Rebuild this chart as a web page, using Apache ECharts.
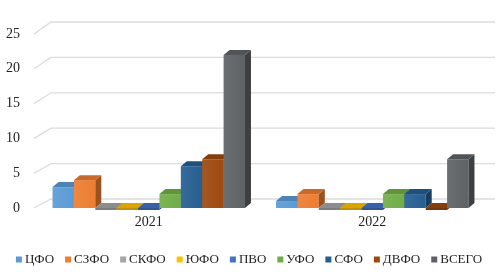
<!DOCTYPE html>
<html>
<head>
<meta charset="utf-8">
<script src="https://cdn.jsdelivr.net/npm/echarts@6/dist/echarts.min.js"></script>
<style>html,body{margin:0;padding:0;background:#fff}#c{width:498px;height:274px}</style>
</head>
<body>
<div id="c"></div>
<script>
var categories = ['2021', '2022'];
var seriesNames = ['ЦФО', 'СЗФО', 'СКФО', 'ЮФО', 'ПВО', 'УФО', 'СФО', 'ДВФО', 'ВСЕГО'];
var valuesCFO   = [3, 1];
var valuesSZFO  = [4, 2];
var valuesSKFO  = [0, 0];
var valuesUFO_S = [0, 0];
var valuesPVO   = [0, 0];
var valuesURFO  = [2, 2];
var valuesSFO   = [6, 2];
var valuesDVFO  = [7, 0];
var valuesTotal = [22, 7];
var yTicks = [0, 5, 10, 15, 20, 25];

var seriesValues = [valuesCFO, valuesSZFO, valuesSKFO, valuesUFO_S, valuesPVO, valuesURFO, valuesSFO, valuesDVFO, valuesTotal];
var colors = ['#5B9BD5', '#ED7D31', '#A5A5A5', '#FFC000', '#4472C4', '#70AD47', '#255E91', '#9E480E', '#5E6266'];

function shade(hex, f) {
  var n = parseInt(hex.slice(1), 16);
  var r = (n >> 16) & 255, g = (n >> 8) & 255, b = n & 255;
  function c(v) { v = f < 0 ? v * (1 + f) : v + (255 - v) * f; return Math.max(0, Math.min(255, Math.round(v))); }
  return 'rgb(' + c(r) + ',' + c(g) + ',' + c(b) + ')';
}

var nS = seriesNames.length;
var DX = 6, DY = -5, GROUP = 0.861;
var FONT = '"Liberation Serif", "Times New Roman", serif';

function barRender(sIdx) {
  return function (params, api) {
    var ci = api.value(0), v = api.value(1);
    var top = api.coord([ci, v]);
    var base = api.coord([ci, 0]);
    var bw = api.size([1, 0])[0];
    var gw = bw * GROUP, w = gw / nS;
    var x0 = top[0] - gw / 2 + sIdx * w;
    var ty = top[1], by = base[1];
    var col = colors[sIdx];
    var children = [];
    if (by - ty > 0.5) {
      children.push({ type: 'rect', shape: { x: x0, y: ty, width: w, height: by - ty },
        style: { fill: { type: 'linear', x: 0, y: 0, x2: 1, y2: 0, colorStops: [
          { offset: 0, color: shade(col, 0.08) }, { offset: 1, color: col }] } } });
    }
    var slab = Math.max(by - ty, 0);
    var h = slab < 0.5 ? 2 : 0;
    children.push({ type: 'polygon', shape: { points: [[x0 + w, ty], [x0 + w + DX, ty + DY], [x0 + w + DX, by + DY + h], [x0 + w, by + h]] },
      style: { fill: shade(col, -0.35) } });
    children.push({ type: 'polygon', shape: { points: [[x0, ty], [x0 + DX, ty + DY], [x0 + w + DX, ty + DY], [x0 + w, ty]] },
      style: { fill: shade(col, -0.15) } });
    if (h) {
      children.push({ type: 'rect', shape: { x: x0, y: by, width: w, height: h }, style: { fill: shade(col, -0.25) } });
    }
    return { type: 'group', children: children };
  };
}

var series = [];
series.push({
  type: 'custom', name: '__grid', silent: true, z: 0,
  data: yTicks.map(function (t) { return [0, t]; }),
  renderItem: function (params, api) {
    var p = api.coord([0, api.value(1)]);
    var left = params.coordSys.x - 3;
    var right = params.coordSys.x + params.coordSys.width + 11;
    var dy = -9 - 3 * api.value(1) / 25;
    var fy = p[1];
    return { type: 'polyline', shape: { points: [[left, fy], [left + 17, fy + dy], [right, fy + dy]] },
      style: { stroke: '#dcdcdc', lineWidth: 1.3, fill: null } };
  }
});
seriesNames.forEach(function (name, i) {
  series.push({
    type: 'custom', name: name, z: 2,
    itemStyle: { color: colors[i] },
    data: seriesValues[i].map(function (v, ci) { return [ci, v]; }),
    encode: { x: 0, y: 1 },
    renderItem: barRender(i)
  });
});

var chart = echarts.init(document.getElementById('c'), null, { renderer: 'canvas' });
chart.setOption({
  animation: false,
  backgroundColor: '#fff',
  grid: { left: 37, right: 14, top: 34, bottom: 66 },
  xAxis: {
    type: 'category', data: categories,
    axisLine: { show: false }, axisTick: { show: false },
    axisLabel: { color: '#222', fontFamily: FONT, fontSize: 14, margin: 7 }
  },
  yAxis: {
    type: 'value', min: 0, max: 25, interval: 5,
    axisLine: { show: false }, axisTick: { show: false }, splitLine: { show: false },
    axisLabel: { color: '#222', fontFamily: FONT, fontSize: 14, margin: 17, padding: [4, 0, 0, 0] }
  },
  legend: {
    data: seriesNames.map(function (n, i) { return { name: n, icon: 'rect', itemStyle: { color: colors[i] } }; }),
    bottom: 3, left: 'center',
    itemWidth: 6, itemHeight: 6, itemGap: 11,
    textStyle: { color: '#222', fontFamily: FONT, fontSize: 13, padding: [0, 0, 0, -2] }
  },
  series: series
});
</script>
</body>
</html>
